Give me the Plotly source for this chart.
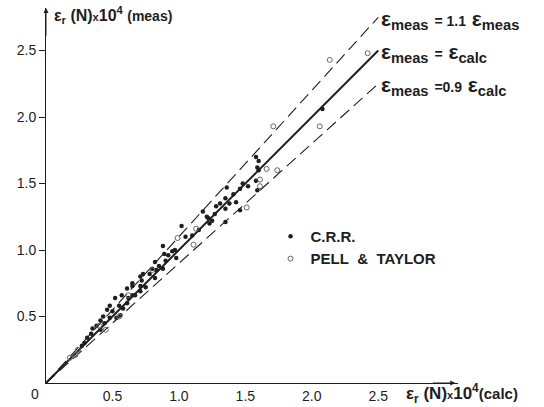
import plotly.graph_objects as go

# ---- data (units x10^4) ----
crr_x = [0.27, 0.29, 0.31, 0.34, 0.35, 0.38, 0.41, 0.41, 0.43, 0.44, 0.46, 0.48, 0.48, 0.50,
         0.52, 0.53, 0.55, 0.56, 0.57, 0.58, 0.61, 0.61, 0.62, 0.65, 0.65, 0.65, 0.67, 0.71,
         0.71, 0.71, 0.72, 0.73, 0.75, 0.78, 0.80, 0.82, 0.82, 0.83, 0.85, 0.88, 0.88, 0.89,
         0.90, 0.92, 0.95, 0.97, 0.98, 1.02, 1.05, 1.10, 1.15, 1.18, 1.21, 1.22, 1.23, 1.25,
         1.27, 1.28, 1.31, 1.35, 1.35, 1.35, 1.36, 1.38, 1.41, 1.43, 1.46, 1.46, 1.48, 1.52,
         1.58, 1.58, 1.59, 1.59, 1.60, 1.60, 2.08]
crr_y = [0.28, 0.30, 0.34, 0.37, 0.41, 0.43, 0.40, 0.47, 0.50, 0.45, 0.55, 0.58, 0.49, 0.54,
         0.64, 0.49, 0.58, 0.51, 0.66, 0.56, 0.60, 0.71, 0.64, 0.66, 0.75, 0.73, 0.66, 0.69,
         0.73, 0.80, 0.77, 0.82, 0.72, 0.82, 0.86, 0.79, 0.91, 0.85, 0.88, 0.86, 1.03, 0.97,
         0.92, 0.96, 0.99, 1.00, 0.94, 1.18, 1.10, 1.11, 1.15, 1.29, 1.25, 1.24, 1.20, 1.22,
         1.27, 1.33, 1.35, 1.31, 1.39, 1.21, 1.47, 1.35, 1.42, 1.36, 1.46, 1.30, 1.50, 1.48,
         1.52, 1.70, 1.62, 1.45, 1.67, 1.60, 2.06]

pt_x = [0.18, 0.22, 0.24, 0.40, 0.45, 0.55, 0.62, 0.80, 0.99, 1.11, 1.13, 1.51, 1.61, 1.61,
        1.66, 1.74, 1.71, 2.06, 2.135, 2.42]
pt_y = [0.19, 0.21, 0.25, 0.43, 0.40, 0.50, 0.66, 0.85, 1.09, 1.04, 1.16, 1.32, 1.53, 1.48,
        1.61, 1.60, 1.93, 1.93, 2.43, 2.48]

line_x = [0.0, 2.5]
ratios = [1.1, 1.0, 0.9]
ratio_dash = ["12px,6px", "solid", "12px,6px"]
ratio_width = [1.1, 2.0, 1.1]

x_ticks = [0.5, 1.0, 1.5, 2.0, 2.5]
y_ticks = [0.5, 1.0, 1.5, 2.0, 2.5]

INK = "#1e1e1e"
FONT = "Liberation Sans, Arial, sans-serif"

fig = go.Figure()

for r, d, w in zip(ratios, ratio_dash, ratio_width):
    fig.add_trace(go.Scatter(x=line_x, y=[r * v for v in line_x], mode="lines",
                             line=dict(color=INK, width=w, dash=d),
                             showlegend=False, hoverinfo="skip"))

fig.add_trace(go.Scatter(x=crr_x, y=crr_y, mode="markers", name="<b>C.R.R.</b>",
                         marker=dict(symbol="circle", size=4.5, color=INK)))
fig.add_trace(go.Scatter(x=pt_x, y=pt_y, mode="markers",
                         name="<b>PELL&nbsp; &amp;&nbsp; TAYLOR</b>",
                         marker=dict(symbol="circle-open", size=5, color="#666666",
                                     line=dict(width=1, color="#666666"))))

ann = []
# axis arrows
ann.append(dict(x=3.08, y=0, ax=2.9, ay=0, xref="x", yref="y", axref="x", ayref="y",
                showarrow=True, arrowhead=2, arrowsize=1, arrowwidth=1, arrowcolor=INK, text=""))
ann.append(dict(x=0, y=2.82, ax=0, ay=2.6, xref="x", yref="y", axref="x", ayref="y",
                showarrow=True, arrowhead=2, arrowsize=1, arrowwidth=1, arrowcolor=INK, text=""))
# axis titles
ann.append(dict(x=0.045, y=2.77, xref="x", yref="y", xanchor="left", yanchor="middle",
                showarrow=False,
                text="<b>ε<sub>r</sub> (N)</b><span style='font-size:11px'><b>x</b></span><b>10<sup>4</sup></b> <b><span style='font-size:14px'>(meas)</span></b>",
                font=dict(size=16, color=INK, family=FONT)))
ann.append(dict(x=0.868, y=-0.028, xref="paper", yref="paper", xanchor="left", yanchor="middle",
                showarrow=False,
                text="<b>ε<sub>r</sub> (N)</b><span style='font-size:11px'><b>x</b></span><b>10<sup>4</sup></b><b><span style='font-size:15px'>(calc)</span></b>",
                font=dict(size=17, color=INK, family=FONT)))
ann.append(dict(x=-0.027, y=-0.028, xref="paper", yref="paper", xanchor="center", yanchor="middle",
                showarrow=False, text="0", font=dict(size=14, color=INK, family=FONT)))
# line labels
labels = ["<b>ε<sub>meas</sub> <span style='font-size:14px'>= 1.1</span> ε<sub>meas</sub></b>",
          "<b>ε<sub>meas</sub> <span style='font-size:14px'>=</span> ε<sub>calc</sub></b>",
          "<b>ε<sub>meas</sub> <span style='font-size:14px'>=0.9</span> ε<sub>calc</sub></b>"]
label_y = [2.73, 2.48, 2.23]
for t, yy in zip(labels, label_y):
    ann.append(dict(x=2.505, y=yy, xref="x", yref="y", xanchor="left", yanchor="middle",
                    showarrow=False, text=t, font=dict(size=21, color=INK, family=FONT)))

fig.update_layout(
    width=544, height=407,
    margin=dict(l=46, r=86, t=8, b=24),
    paper_bgcolor="white", plot_bgcolor="white",
    font=dict(family=FONT, color=INK, size=14),
    annotations=ann,
    legend=dict(x=0.545, y=0.435, xanchor="left", yanchor="top",
                bgcolor="rgba(0,0,0,0)", font=dict(size=15, color=INK, family=FONT),
                itemwidth=30, tracegroupgap=0),
    xaxis=dict(range=[0, 3.1], tickvals=x_ticks, ticktext=[f"{v:.1f}" for v in x_ticks],
               showgrid=False, zeroline=False, showline=True, linecolor=INK, linewidth=1,
               automargin=False,
               ticks="", ticklabelstandoff=0, tickfont=dict(size=14, color=INK, family=FONT)),
    yaxis=dict(range=[0, 2.82], tickvals=y_ticks, ticktext=[f"{v:.1f}" for v in y_ticks],
               showgrid=False, zeroline=False, showline=True, linecolor=INK, linewidth=1,
               automargin=False,
               ticks="outside", ticklen=6, tickcolor=INK,
               tickfont=dict(size=14, color=INK, family=FONT)),
)

fig.write_html("out.html", config={"displayModeBar": False},
               post_script="document.body.style.margin='0';")
